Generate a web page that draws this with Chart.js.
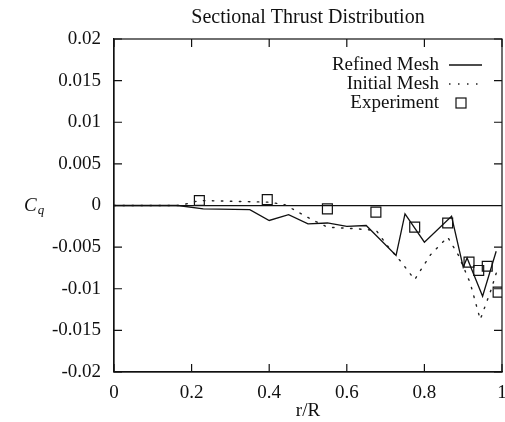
<!DOCTYPE html>
<html><head><meta charset="utf-8">
<script src="https://cdn.jsdelivr.net/npm/chart.js@4/dist/chart.umd.min.js"></script>
<style>html,body{margin:0;padding:0;background:#fff;overflow:hidden}#wrap{width:505px;height:422px}</style>
</head><body><div id="wrap"><canvas id="c" width="505" height="422"></canvas></div>
<script>
const chartTitle = 'Sectional Thrust Distribution';
const xAxisTitle = 'r/R';
const yAxisSymbol = 'C';
const yAxisSubscript = 'q';
const seriesNames = ['Refined Mesh', 'Initial Mesh', 'Experiment'];

const refinedX = [0, 0.165, 0.23, 0.35, 0.40, 0.45, 0.50, 0.55, 0.60, 0.65, 0.727, 0.75, 0.80, 0.87, 0.90, 0.91, 0.95, 0.985];
const refinedY = [0, 0, -0.0004, -0.0005, -0.0018, -0.0011, -0.0022, -0.0021, -0.0025, -0.0024, -0.006, -0.001, -0.0044, -0.0013, -0.0074, -0.0063, -0.0109, -0.0055];

const initialX = [0, 0.17, 0.22, 0.40, 0.44, 0.51, 0.55, 0.625, 0.676, 0.704, 0.737, 0.775, 0.816, 0.86, 0.888, 0.918, 0.944, 0.972, 0.99];
const initialY = [0, 0, 0.0006, 0.0004, 0.0001, -0.0017, -0.0026, -0.0028, -0.003, -0.0048, -0.0066, -0.0089, -0.0059, -0.0038, -0.006, -0.0093, -0.0137, -0.0101, -0.0074];

const expX = [0.22, 0.395, 0.55, 0.675, 0.775, 0.86, 0.915, 0.94, 0.962, 0.99];
const expY = [0.0006, 0.0007, -0.0004, -0.0008, -0.0026, -0.0021, -0.0068, -0.0078, -0.0073, -0.0104];

const xTickValues = [0, 0.2, 0.4, 0.6, 0.8, 1];
const xTickLabels = ['0', '0.2', '0.4', '0.6', '0.8', '1'];
const yTickValues = [-0.02, -0.015, -0.01, -0.005, 0, 0.005, 0.01, 0.015, 0.02];
const yTickLabels = ['-0.02', '-0.015', '-0.01', '-0.005', '0', '0.005', '0.01', '0.015', '0.02'];

const pts = (xs, ys) => xs.map((x, i) => ({x: x, y: ys[i]}));
const INK = '#111';
const SERIF = '"Liberation Serif", "Times New Roman", serif';

const framePlugin = {
  id: 'frame',
  afterDraw(chart) {
    const {ctx, chartArea: a, scales: {x, y}} = chart;
    ctx.save();
    ctx.strokeStyle = INK;
    ctx.lineWidth = 1.2;
    ctx.strokeRect(a.left, a.top, a.right - a.left, a.bottom - a.top);
    const tl = 8;
    ctx.beginPath();
    yTickValues.forEach(v => {
      const py = y.getPixelForValue(v);
      ctx.moveTo(a.left, py); ctx.lineTo(a.left + tl, py);
      ctx.moveTo(a.right, py); ctx.lineTo(a.right - tl, py);
    });
    xTickValues.forEach(v => {
      const px = x.getPixelForValue(v);
      ctx.moveTo(px, a.bottom); ctx.lineTo(px, a.bottom - tl);
      ctx.moveTo(px, a.top); ctx.lineTo(px, a.top + tl);
    });
    ctx.stroke();

    // y-axis symbol C_q
    const zy = y.getPixelForValue(0);
    ctx.fillStyle = INK;
    ctx.textBaseline = 'middle';
    ctx.textAlign = 'left';
    ctx.font = 'italic 19px ' + SERIF;
    ctx.fillText(yAxisSymbol, 24, zy);
    const cw = ctx.measureText(yAxisSymbol).width;
    ctx.font = 'italic 13px ' + SERIF;
    ctx.fillText(yAxisSubscript, 24 + cw + 1, zy + 5);

    // legend (text right aligned, sample on the right)
    const textRight = a.right - 63;
    const rowTop = a.top + 26;
    const rowGap = 19;
    chart.data.datasets.forEach((ds, i) => {
      const ry = rowTop + i * rowGap;
      ctx.font = '19px ' + SERIF;
      ctx.textAlign = 'right';
      ctx.textBaseline = 'middle';
      ctx.fillStyle = INK;
      ctx.fillText(ds.label, textRight, ry);
      ctx.strokeStyle = ds.borderColor;
      ctx.lineWidth = ds.borderWidth;
      if (ds.showLine !== false) {
        ctx.setLineDash(ds.borderDash || []);
        ctx.beginPath();
        ctx.moveTo(textRight + 10, ry);
        ctx.lineTo(textRight + 43, ry);
        ctx.stroke();
        ctx.setLineDash([]);
      } else {
        ctx.strokeRect(textRight + 17, ry - 5, 10, 10);
      }
    });
    ctx.restore();
  }
};

new Chart(document.getElementById('c'), {
  type: 'scatter',
  data: {
    datasets: [
      {label: seriesNames[0], data: pts(refinedX, refinedY), showLine: true, borderColor: INK, borderWidth: 1.3, pointRadius: 0, fill: false, tension: 0},
      {label: seriesNames[1], data: pts(initialX, initialY), showLine: true, borderColor: '#222', borderWidth: 1.4, borderDash: [1.5, 7.5], borderCapStyle: 'round', pointRadius: 0, fill: false, tension: 0},
      {label: seriesNames[2], data: pts(expX, expY), showLine: false, borderColor: INK, borderWidth: 1.2, backgroundColor: 'rgba(0,0,0,0)', pointStyle: 'rect', pointRadius: 7}
    ]
  },
  options: {
    responsive: false,
    animation: false,
    devicePixelRatio: 1,
    layout: {autoPadding: false, padding: {left: 0, right: 3, top: 0, bottom: 0}},
    plugins: {
      legend: {display: false},
      tooltip: {enabled: false},
      title: {display: true, text: chartTitle, fullSize: false, color: INK,
        font: {family: SERIF, size: 20, weight: 'normal'}, padding: {top: 6, bottom: 9}}
    },
    scales: {
      x: {
        type: 'linear', min: 0, max: 1,
        afterBuildTicks: s => { s.ticks = xTickValues.map(v => ({value: v})); },
        afterFit: s => { s.height = 50; s.paddingLeft = 0; s.paddingRight = 0; },
        ticks: {color: INK, font: {family: SERIF, size: 19}, padding: 10, maxRotation: 0,
          callback: (v, i) => xTickLabels[i]},
        grid: {display: false, drawTicks: false},
        border: {display: true, color: INK, width: 1.2},
        title: {display: true, text: xAxisTitle, color: INK, font: {family: SERIF, size: 19}, padding: {top: 0, bottom: 0}}
      },
      y: {
        type: 'linear', min: -0.02, max: 0.02,
        afterBuildTicks: s => { s.ticks = yTickValues.map(v => ({value: v})); },
        afterFit: s => { s.width = 114; s.paddingTop = 0; s.paddingBottom = 0; },
        ticks: {color: INK, font: {family: SERIF, size: 19}, padding: 13,
          callback: (v, i) => yTickLabels[i]},
        grid: {drawTicks: false, lineWidth: 1.2,
          color: c => (c.tick && c.tick.value === 0) ? INK : 'rgba(0,0,0,0)'},
        border: {display: true, color: INK, width: 1.2}
      }
    }
  },
  plugins: [framePlugin]
});
</script>
</body></html>
